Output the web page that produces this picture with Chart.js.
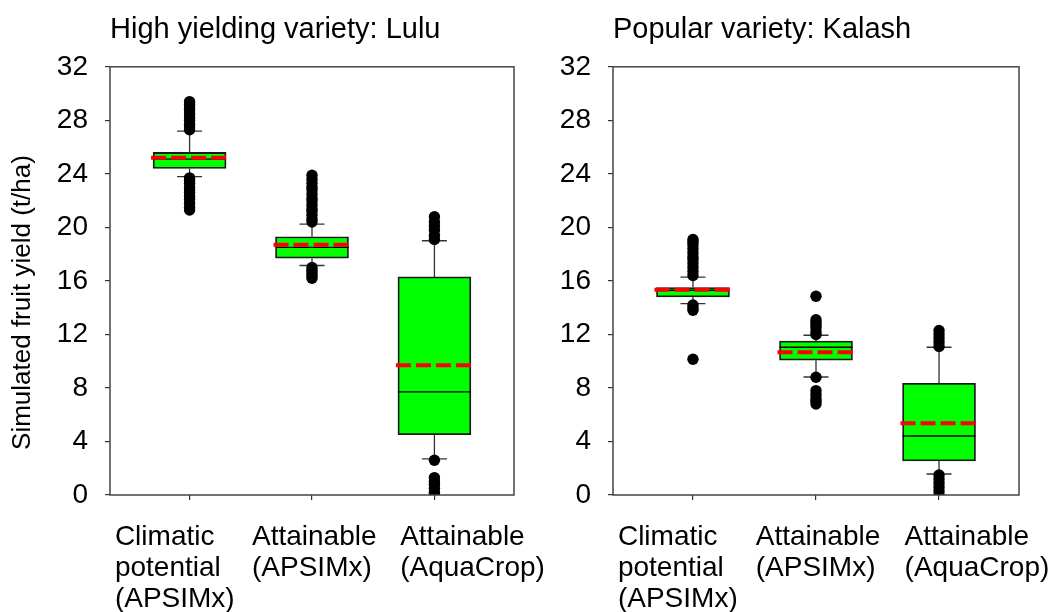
<!DOCTYPE html>
<html>
<head>
<meta charset="utf-8">
<script src="https://cdn.jsdelivr.net/npm/chart.js@4.4.1/dist/chart.umd.min.js"></script>
<style>
  body { margin: 0; background: #fff; width: 1058px; height: 612px; position: relative; overflow: hidden; }
  canvas { position: absolute; top: 0; }
  #luluChart { left: 0; }
  #kalashChart { left: 540px; }
</style>
</head>
<body>
<canvas id="luluChart" width="560" height="612"></canvas>
<canvas id="kalashChart" width="518" height="612"></canvas>
<script>
// categories and tick labels
const categories = [
  ['Climatic', 'potential', '(APSIMx)'],
  ['Attainable', '(APSIMx)'],
  ['Attainable', '(AquaCrop)']
];
const yTickLabels = [0, 4, 8, 12, 16, 20, 24, 28, 32];

// High yielding variety: Lulu
const luluQ1 = [24.4, 17.7, 4.5];
const luluMedian = [25.1, 18.5, 7.7];
const luluQ3 = [25.6, 19.3, 16.3];
const luluMean = [25.2, 18.7, 9.7];
const luluLowWhisker = [23.8, 17.15, 2.7];
const luluHighWhisker = [27.2, 20.25, 19.0];
const luluOutliers = [
  [27.3, 27.5, 27.7, 28.0, 28.2, 28.5, 28.8, 29.0, 29.2, 29.4,
   23.7, 23.5, 23.3, 23.0, 22.8, 22.6, 22.3, 22.1, 21.8, 21.5, 21.3],
  [20.4, 20.6, 20.9, 21.2, 21.4, 21.7, 22.0, 22.2, 22.5, 22.8, 23.0, 23.3, 23.6, 23.9,
   17.0, 16.8, 16.6, 16.4, 16.2],
  [19.1, 19.4, 19.8, 20.1, 20.4, 20.8,
   2.6, 1.3, 1.0, 0.8, 0.5, 0.2, 0.0]
];

// Popular variety: Kalash
const kalashQ1 = [14.8, 10.07, 2.54];
const kalashMedian = [15.3, 11.04, 4.41];
const kalashQ3 = [15.5, 11.5, 8.35];
const kalashMean = [15.33, 10.67, 5.36];
const kalashLowWhisker = [14.3, 8.82, 1.57];
const kalashHighWhisker = [16.28, 11.94, 11.04];
const kalashOutliers = [
  [16.4, 16.7, 17.0, 17.3, 17.6, 17.8, 18.1, 18.4, 18.7, 18.9, 19.1,
   14.2, 14.0, 13.8, 10.15],
  [12.0, 12.2, 12.5, 12.7, 12.9, 13.1, 14.85,
   8.8, 7.8, 7.5, 7.2, 7.0, 6.8],
  [11.1, 11.4, 11.7, 12.0, 12.3,
   1.5, 1.2, 0.9, 0.6, 0.3, 0.0]
];

const FONT = "'Liberation Sans', Arial, sans-serif";

// whiskers, caps, median and mean drawn right after the boxes
const boxParts = {
  id: 'boxParts',
  afterDatasetDraw(chart, args, opts) {
    if (args.meta.type !== 'bar') return;
    const ctx = chart.ctx;
    const y = chart.scales.y;
    ctx.save();
    args.meta.data.forEach((bar, i) => {
      const left = bar.x - bar.width / 2;
      const right = bar.x + bar.width / 2;
      const top = Math.min(bar.y, bar.base);
      const bottom = Math.max(bar.y, bar.base);
      const hi = y.getPixelForValue(opts.highWhisker[i]);
      const lo = y.getPixelForValue(opts.lowWhisker[i]);
      ctx.strokeStyle = '#333';
      ctx.lineWidth = 1.3;
      ctx.setLineDash([]);
      ctx.beginPath();
      ctx.moveTo(bar.x, top); ctx.lineTo(bar.x, hi);
      ctx.moveTo(bar.x - 12.5, hi); ctx.lineTo(bar.x + 12.5, hi);
      ctx.moveTo(bar.x, bottom); ctx.lineTo(bar.x, lo);
      ctx.moveTo(bar.x - 12.5, lo); ctx.lineTo(bar.x + 12.5, lo);
      ctx.stroke();
      // median
      const med = y.getPixelForValue(opts.median[i]);
      ctx.strokeStyle = '#000';
      ctx.lineWidth = 1.3;
      ctx.beginPath();
      ctx.moveTo(left, med); ctx.lineTo(right, med);
      ctx.stroke();
      // mean
      const avg = y.getPixelForValue(opts.mean[i]);
      ctx.strokeStyle = '#ff0000';
      ctx.lineWidth = 4;
      ctx.setLineDash([15, 5]);
      ctx.beginPath();
      ctx.moveTo(left - 2, avg); ctx.lineTo(right, avg);
      ctx.stroke();
    });
    ctx.restore();
  }
};

// box around the plot area
const frame = {
  id: 'frame',
  afterDatasetsDraw(chart) {
    const a = chart.chartArea;
    const ctx = chart.ctx;
    ctx.save();
    ctx.strokeStyle = '#444';
    ctx.lineWidth = 1.5;
    ctx.strokeRect(a.left, a.top, a.right - a.left, a.bottom - a.top);
    ctx.restore();
  }
};

// left edge of each multi-line category label, in x units
const labelStart = [-0.61, 0.51, 1.72];

function buildChart(canvasId, titleText, q1, median, q3, mean, lowWhisker, highWhisker, outliers, showYTitle, yWidth, padRight) {
  const boxData = categories.map((c, i) => ({x: i, y: [q1[i], q3[i]]}));
  const outlierData = [];
  outliers.forEach((list, i) => list.forEach(v => outlierData.push({x: i, y: v})));

  return new Chart(document.getElementById(canvasId), {
    type: 'bar',
    data: {
      datasets: [{
        type: 'bar',
        data: boxData,
        backgroundColor: '#00ff00',
        borderColor: '#1a1a1a',
        borderWidth: 1.8,
        borderSkipped: false,
        barThickness: 73,
        order: 2
      }, {
        type: 'scatter',
        data: outlierData,
        backgroundColor: '#000',
        borderWidth: 0,
        pointRadius: 5.7,
        order: 1
      }]
    },
    options: {
      responsive: false,
      animation: false,
      events: [],
      layout: {padding: {left: 0, right: padRight, top: 0, bottom: 0}},
      plugins: {
        legend: {display: false},
        tooltip: {enabled: false},
        title: {
          display: true,
          text: titleText,
          align: 'start',
          fullSize: false,
          color: '#000',
          font: {family: FONT, size: 29, weight: 'normal'},
          padding: {top: 13, bottom: 19}
        },
        boxParts: {median: median, mean: mean, lowWhisker: lowWhisker, highWhisker: highWhisker}
      },
      scales: {
        x: {
          type: 'linear',
          min: -0.65,
          max: 2.65,
          offset: false,
          border: {display: false},
          grid: {offset: false, drawOnChartArea: false, tickLength: 5, color: '#333', lineWidth: 1.2},
          ticks: {display: false},
          afterBuildTicks: s => { s.ticks = categories.map((c, i) => ({value: i})); },
          afterFit: s => { s.height = 6; }
        },
        xl: {
          type: 'linear',
          position: 'bottom',
          min: -0.65,
          max: 2.65,
          offset: false,
          border: {display: false},
          grid: {display: false, offset: false},
          ticks: {
            align: 'start',
            autoSkip: false,
            maxRotation: 0,
            padding: 13,
            color: '#000',
            font: {family: FONT, size: 28, lineHeight: 1.1},
            callback: (v, i) => categories[i]
          },
          afterBuildTicks: s => { s.ticks = labelStart.map(v => ({value: v})); },
          afterFit: s => { s.height = 111; s.paddingLeft = 0; s.paddingRight = 0; }
        },
        y: {
          min: 0,
          max: 32,
          border: {display: false},
          grid: {drawOnChartArea: false, tickLength: 5, color: '#333', lineWidth: 1.2},
          ticks: {
            stepSize: 2,
            padding: 17,
            color: '#000',
            font: {family: FONT, size: 28},
            callback: v => yTickLabels.includes(v) ? v : ''
          },
          title: {
            display: showYTitle,
            // trailing spaces push the centred text a little lower, as in the original
            text: 'Simulated fruit yield (t/ha)      ',
            color: '#000',
            font: {family: FONT, size: 26},
            padding: {top: 7, bottom: 0}
          },
          afterFit: s => { s.width = yWidth; }
        }
      }
    },
    plugins: [boxParts, frame]
  });
}

buildChart('luluChart', 'High yielding variety: Lulu',
  luluQ1, luluMedian, luluQ3, luluMean, luluLowWhisker, luluHighWhisker, luluOutliers, true, 110, 46);
buildChart('kalashChart', 'Popular variety: Kalash',
  kalashQ1, kalashMedian, kalashQ3, kalashMean, kalashLowWhisker, kalashHighWhisker, kalashOutliers, false, 73, 39);
</script>
</body>
</html>
